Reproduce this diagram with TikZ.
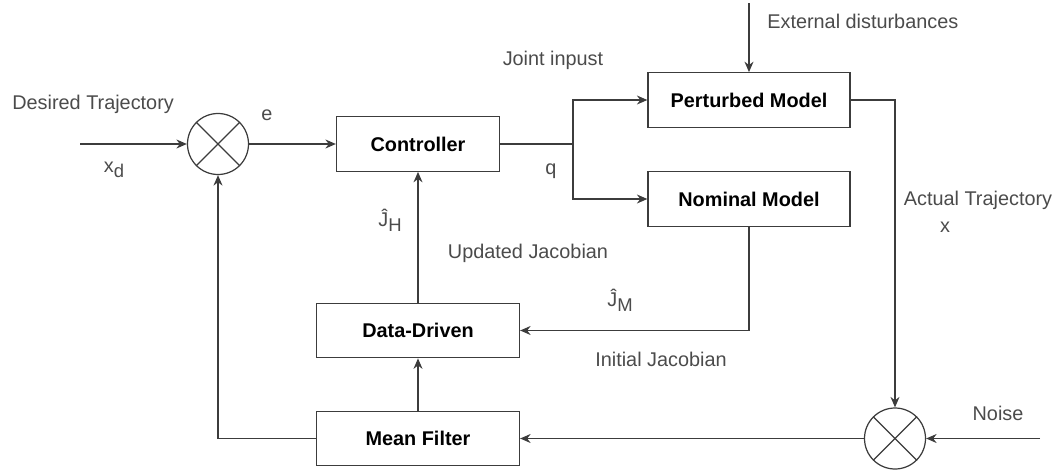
\documentclass[tikz,border=0pt]{standalone}
\usepackage{fontspec}
\setmainfont{Liberation Sans}
\usetikzlibrary{positioning, arrows.meta}
\definecolor{wiregray}{RGB}{60, 60, 60}
\definecolor{labelgray}{RGB}{75, 75, 75}
\newcommand{\lowsub}[1]{\raisebox{-0.45ex}{\fontsize{10.5}{12}\selectfont #1}}

\begin{document}
\begin{tikzpicture}[
        blk/.style={draw=wiregray, line width=0.7pt, inner sep=0pt,
            minimum height=1.09cm, font=\fontsize{11.3}{13}\selectfont\bfseries},
        sumj/.style={draw=wiregray, line width=0.7pt, circle, inner sep=0pt,
            minimum size=1.22cm},
        lbl/.style={font=\fontsize{11.3}{13}\selectfont, text=labelgray, inner sep=0pt},
        wire/.style={line width=0.7pt, wiregray},
        arr/.style={-{Stealth[length=2.1mm, width=1.8mm]}, line width=0.7pt, wiregray}
    ]
    \useasboundingbox (0, 0) rectangle (21.24, 9.4);

    % === Blocks ===
    \node[blk, minimum width=3.26cm] (ctrl) at (8.36, 6.52) {Controller};
    \node[blk, minimum width=4.04cm] (pmod) at (14.98, 7.40) {Perturbed Model};
    \node[blk, minimum width=4.04cm] (nmod) at (14.98, 5.42) {Nominal Model};
    \node[blk, minimum width=4.06cm] (ddrv) at (8.36, 2.79) {Data-Driven};
    \node[blk, minimum width=4.06cm] (mfil) at (8.36, 0.63) {Mean Filter};

    % === Summing junctions ===
    \node[sumj] (sum1) at (4.36, 6.52) {};
    \draw[wire] (sum1.45) -- (sum1.225) (sum1.135) -- (sum1.315);
    \node[sumj] (sum2) at (17.90, 0.63) {};
    \draw[wire] (sum2.45) -- (sum2.225) (sum2.135) -- (sum2.315);

    % === Free ends ===
    \coordinate (xin) at (1.60, 6.52);
    \coordinate (split) at (11.46, 6.52);
    \coordinate (dist) at (14.98, 9.34);
    \coordinate (noise) at (20.80, 0.63);

    % === Forward path ===
    \draw[arr] (xin) -- (sum1.west);
    \draw[arr] (sum1.east) -- (ctrl.west);
    \draw[wire] (ctrl.east) -- (split);
    \draw[arr] (split) |- (pmod.west);
    \draw[arr] (split) |- (nmod.west);
    \draw[arr] (dist) -- (pmod.north);
    \draw[arr] (pmod.east) -| (sum2.north);
    \draw[arr] (noise) -- (sum2.east);

    % === Feedback path ===
    \draw[arr] (sum2.west) -- (mfil.east);
    \draw[arr] (mfil.west) -| (sum1.south);
    \draw[arr] (mfil.north) -- (ddrv.south);
    \draw[arr] (ddrv.north) -- (ctrl.south);
    \draw[arr] (nmod.south) |- (ddrv.east);

    % === Labels ===
    \node[lbl, anchor=west] (tdes) at (0.24, 7.32) {Desired Trajectory};
    \node[lbl] (txd) at (2.28, 6.00) {x\lowsub{d}};
    \node[lbl] (te) at (5.34, 7.10) {e};
    \node[lbl] (tjoint) at (11.06, 8.20) {Joint inpust};
    \node[lbl] (tq) at (11.02, 5.98) {q};
    \node[lbl, anchor=west] (text) at (15.34, 8.98) {External disturbances};
    \node[lbl] (tact) at (19.56, 5.40) {Actual Trajectory};
    \node[lbl] (tx) at (18.90, 4.86) {x};
    \node[lbl] (tnoise) at (19.96, 1.14) {Noise};
    \node[lbl] (tjh) at (7.80, 5.00) {\^{J}\lowsub{H}};
    \node[lbl] (tupd) at (10.56, 4.34) {Updated Jacobian};
    \node[lbl] (tjm) at (12.40, 3.40) {\^{J}\lowsub{M}};
    \node[lbl] (tinit) at (13.22, 2.22) {Initial Jacobian};

    \end{tikzpicture}
\end{document}
